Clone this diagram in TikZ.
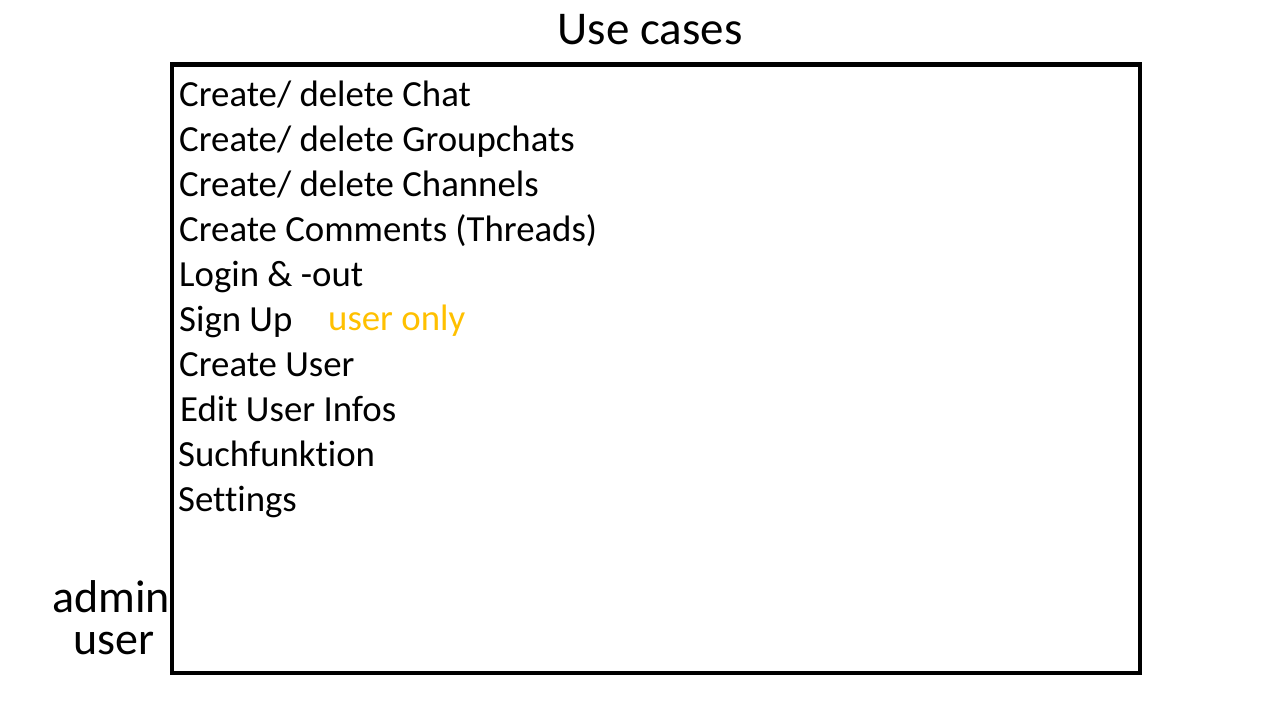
\documentclass[tikz,border=0pt]{standalone}
\usepackage{fontspec}
\setmainfont{Carlito}[Ligatures=NoCommon]
\definecolor{useronly}{HTML}{FFC000}
\begin{document}
\begin{tikzpicture}[x=1pt,y=-1pt,
  item/.style={anchor=base west,inner sep=0pt,font=\fontsize{36.8}{44}\selectfont},
  side/.style={anchor=base,inner sep=0pt,font=\fontsize{46}{52}\selectfont}]
\useasboundingbox (0,0) rectangle (1286,720);
\node[anchor=base,inner sep=0pt,font=\fontsize{47}{54}\selectfont] (title) at (650,45) {Use cases};
\node[side] (admin) at (111,612) {admin};
\node[side] (user) at (114,654) {user};
\draw[line width=4.5pt,fill=none] (172,64.5) rectangle (1140,673);
\node[item] (i1) at (179,106) {Create/ delete Chat};
\node[item] (i2) at (179,151) {Create/ delete Groupchats};
\node[item] (i3) at (179,196) {Create/ delete Channels};
\node[item] (i4) at (179,241) {Create Comments (Threads)};
\node[item] (i5) at (179,286) {Login \& -out};
\node[item] (i6) at (179,331) {Sign Up};
\node[item,text=useronly] (uo) at (328,330) {user only};
\node[item] (i7) at (179,376) {Create User};
\node[item] (i8) at (180,421) {Edit User Infos};
\node[item] (i9) at (178,466) {Suchfunktion};
\node[item] (i10) at (178,511) {Settings};
\end{tikzpicture}
\end{document}
